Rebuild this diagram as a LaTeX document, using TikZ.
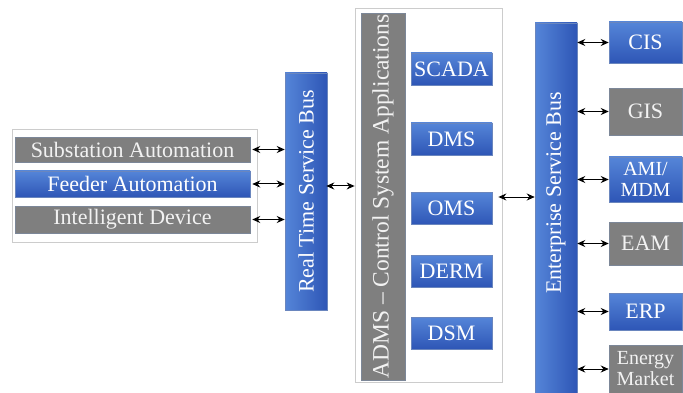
\documentclass[tikz,border=0pt]{standalone}
\usepackage{fontspec}
\setmainfont{LiberationSerif}[Extension=.ttf, UprightFont=*-Regular, BoldFont=*-Bold, Ligatures=TeX]
\usetikzlibrary{arrows.meta}
\definecolor{bluetop}{HTML}{5585D8}
\definecolor{bluebot}{HTML}{2E56B6}
\definecolor{blueedge}{HTML}{6A86BE}
\definecolor{boxgray}{HTML}{7F7F7F}
\definecolor{grayedge}{HTML}{7C8798}
\definecolor{frame}{HTML}{CCCCCC}
\definecolor{lighttext}{HTML}{F2F2F2}
\tikzset{
  bigfont/.style={font=\rmfamily\fontsize{22}{24}\selectfont},
  smallfont/.style={font=\rmfamily\fontsize{20}{24}\selectfont},
  bluebox/.style={draw=blueedge, line width=0.5pt, top color=bluetop, bottom color=bluebot,
    text=white, inner sep=0pt, bigfont, align=center},
  graybox/.style={draw=grayedge, line width=0.5pt, fill=boxgray,
    text=lighttext, inner sep=0pt, bigfont, align=center},
  busbar/.style={draw=blueedge, line width=0.5pt, left color=bluetop, right color=bluebot,
    inner sep=0pt},
  container/.style={draw=frame, line width=0.8pt, fill=white, inner sep=0pt},
  link/.style={<->, >={Stealth[length=8pt,width=7pt]}, line width=1pt, black},
}
\begin{document}
\begin{tikzpicture}[x=1pt,y=-1pt]
\useasboundingbox (0,0) rectangle (683,393);
\fill[white] (0,0) rectangle (683,393);

% left group
\node[container, minimum width=245, minimum height=113] (leftgrp) at (134.5,185.5) {};
\node[graybox, minimum width=235, minimum height=25] (sub) at (132.5,149.5) {Substation Automation};
\node[bluebox, minimum width=235, minimum height=26] (feed) at (132.5,184) {Feeder Automation};
\node[graybox, minimum width=235, minimum height=27] (intel) at (132.5,219.5) {Intelligent Device};

% real time bus
\node[busbar, minimum width=42, minimum height=237,
  label={[rotate=90,text=white,bigfont]center:Real Time Service Bus}] (rt) at (306,191.5) {};

% ADMS group
\node[container, minimum width=147, minimum height=374] (adms) at (428.5,195) {};
\node[fill=boxgray, draw=grayedge, line width=0.5pt, inner sep=0pt, minimum width=44, minimum height=367,
  label={[rotate=90,text=lighttext,font=\rmfamily\fontsize{23.5}{24}\selectfont]center:ADMS -- Control System Applications}] (admsbar) at (383,196.5) {};
\node[bluebox, minimum width=81, minimum height=32] (scada) at (451.5,69) {SCADA};
\node[bluebox, minimum width=81, minimum height=32] (dms) at (451.5,139) {DMS};
\node[bluebox, minimum width=81, minimum height=32] (oms) at (451.5,208.5) {OMS};
\node[bluebox, minimum width=81, minimum height=32] (derm) at (451.5,271) {DERM};
\node[bluebox, minimum width=81, minimum height=32] (dsm) at (451.5,333) {DSM};

% enterprise bus
\node[busbar, minimum width=42, minimum height=372,
  label={[rotate=90,text=white,bigfont,xshift=16pt]center:Enterprise Service Bus}] (esb) at (556,209) {};

% right boxes
\node[bluebox, minimum width=73, minimum height=41] (cis) at (645.5,42.5) {CIS};
\node[graybox, minimum width=73, minimum height=47] (gis) at (645.5,111.5) {GIS};
\node[bluebox, smallfont, minimum width=73, minimum height=45] (ami) at (645.5,179.5) {AMI/\\[-3pt]MDM};
\node[graybox, minimum width=73, minimum height=43] (eam) at (645.5,243.5) {EAM};
\node[bluebox, minimum width=73, minimum height=37] (erp) at (645.5,311.5) {ERP};
\node[graybox, smallfont, minimum width=73, minimum height=48] (emkt) at (645.5,369) {Energy\\[-3pt]Market};

% connectors
\draw[link] ([xshift=2pt]sub.east) -- (sub.east -| rt.west);
\draw[link] ([xshift=2pt]feed.east) -- (feed.east -| rt.west);
\draw[link] ([xshift=2pt]intel.east) -- (intel.east -| rt.west);
\coordinate (m1) at (0,186);
\draw[link] ([xshift=-1pt]rt.east |- m1) -- (adms.west |- m1);
\coordinate (m2) at (0,197);
\draw[link] ([xshift=-4pt]adms.east |- m2) -- (esb.west |- m2);
\foreach \b in {cis,gis,ami,eam,erp,emkt}{
  \draw[link] (\b.west -| esb.east) -- (\b.west);
}
\end{tikzpicture}
\end{document}
